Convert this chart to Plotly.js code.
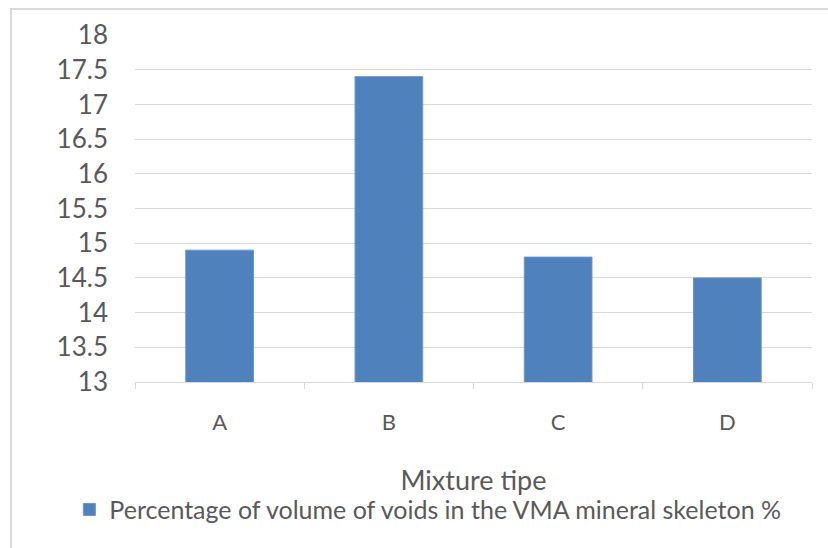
<!DOCTYPE html>
<html>
<head>
<meta charset="utf-8">
<script src="https://cdn.plot.ly/plotly-3.0.1.min.js"></script>
<style>
  html, body { margin: 0; padding: 0; background: #ffffff; }
  #chart { width: 828px; height: 548px; }
</style>
</head>
<body>
<div id="chart"></div>
<script>
// Mixture types and their VMA values (%)
const mixtures = ['A', 'B', 'C', 'D'];
const vmaPercent = [14.9, 17.4, 14.8, 14.5];
const seriesName = 'Percentage of volume of voids in the VMA mineral skeleton %';
const yTicks = [13, 13.5, 14, 14.5, 15, 15.5, 16, 16.5, 17, 17.5, 18];

const textColor = '#595959';
const gridColor = '#d9d9d9';
const font = 'Lato, Roboto, Arial, sans-serif';

const trace = {
  type: 'bar',
  x: mixtures,
  y: vmaPercent,
  base: 0,
  name: seriesName,
  marker: { color: '#4f81bd', line: { color: '#6b96cc', width: 1 } },
  showlegend: true,
  hoverinfo: 'x+y'
};

const layout = {
  width: 828,
  height: 548,
  margin: { l: 135, r: 16, t: 35, b: 166 },
  paper_bgcolor: '#ffffff',
  plot_bgcolor: '#ffffff',
  bargap: 0.6,
  font: { family: font, color: textColor, size: 18 },
  xaxis: {
    type: 'category',
    showgrid: false,
    showline: true,
    linecolor: gridColor,
    linewidth: 1,
    ticks: 'outside',
    tickson: 'boundaries',
    ticklen: 6,
    tickcolor: gridColor,
    tickfont: { family: font, size: 22, color: textColor },
    ticklabelstandoff: 21,
    title: { text: 'Mixture tipe', font: { family: font, size: 27, color: textColor }, standoff: 36 }
  },
  yaxis: {
    range: [13, 18],
    tickvals: yTicks,
    ticktext: yTicks.map(String),
    showgrid: true,
    gridcolor: gridColor,
    gridwidth: 1,
    zeroline: false,
    showline: false,
    ticks: '',
    ticklabelstandoff: 26,
    tickfont: { family: font, size: 26, color: textColor }
  },
  legend: {
    orientation: 'h',
    x: -0.097,
    xanchor: 'left',
    y: -0.368,
    yanchor: 'middle',
    font: { family: font, size: 25, color: textColor },
    itemwidth: 30
  },
  shapes: [
    {
      type: 'path',
      xref: 'paper', yref: 'paper',
      path: 'M 1.05 1.075 L -0.1832 1.075 L -0.1832 -0.55',
      line: { color: '#d9d9d9', width: 2 }
    }
  ]
};

Plotly.newPlot('chart', [trace], layout, { displayModeBar: false, staticPlot: true });
</script>
</body>
</html>
